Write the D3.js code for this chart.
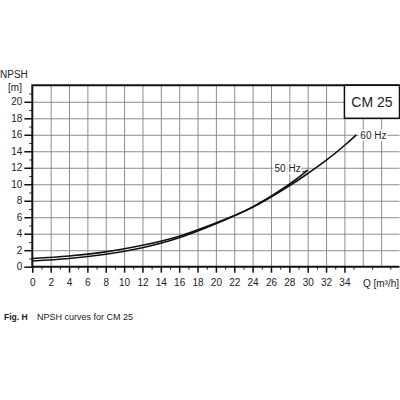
<!DOCTYPE html>
<html>
<head>
<meta charset="utf-8">
<script src="https://cdn.jsdelivr.net/npm/d3@7"></script>
<style>
  body { margin: 0; background: #fff; }
  text { font-family: "Liberation Sans", Arial, sans-serif; fill: #222; }
</style>
</head>
<body>
<div id="chart"></div>
<script>
// flow Q [m3/h] and NPSH [m]
var q60 = [0, 4, 8, 12, 16, 20, 24, 28, 30, 32, 34, 35.3];
var npsh60 = [1.0, 1.3, 1.8, 2.6, 3.7, 5.3, 7.2, 9.8, 11.3, 12.9, 14.7, 16.0];
var q50 = [0, 4, 8, 12, 16, 20, 24, 28, 30];
var npsh50 = [0.7, 1.0, 1.5, 2.3, 3.5, 5.2, 7.25, 10.0, 11.7];

var xTicks = d3.range(0, 35, 2);
var yTicks = d3.range(0, 21, 2);
var seriesNames = ["60 Hz", "50 Hz"];
var boxTitle = "CM 25";
var caption = ["Fig. H", "NPSH curves for CM 25"];

var W = 400, H = 400;
// plot edges (note: "top" is taken by window.top)
var pLeft = 32.3, pRight = 399.5, pTop = 85.3, pBottom = 266.7;

var svg = d3.select("#chart").append("svg")
    .attr("width", W).attr("height", H);

var x = d3.scaleLinear().domain([0, 40]).range([pLeft, pRight]);
var y = d3.scaleLinear().domain([0, 22]).range([pBottom, pTop]);

// grid lines
svg.append("g")
    .attr("transform", "translate(0," + pBottom + ")")
    .call(d3.axisBottom(x).tickValues(d3.range(2, 40, 2)).tickSize(-(pBottom - pTop)).tickFormat(""))
    .call(function(g) { g.select(".domain").remove(); })
    .selectAll("line").attr("stroke", "#808080").attr("stroke-width", 0.9);
svg.append("g")
    .attr("transform", "translate(" + pLeft + ",0)")
    .call(d3.axisLeft(y).tickValues(d3.range(2, 22, 2)).tickSize(-(pRight - pLeft)).tickFormat(""))
    .call(function(g) { g.select(".domain").remove(); })
    .selectAll("line").attr("stroke", "#808080").attr("stroke-width", 0.9);

// minor ticks
svg.append("g")
    .attr("transform", "translate(0," + pBottom + ")")
    .call(d3.axisBottom(x).tickValues(d3.range(1, 40, 2)).tickSize(3).tickFormat(""))
    .call(function(g) { g.select(".domain").remove(); })
    .selectAll("line").attr("stroke", "#222");
svg.append("g")
    .attr("transform", "translate(" + pLeft + ",0)")
    .call(d3.axisLeft(y).tickValues(d3.range(1, 22, 2)).tickSize(3).tickFormat(""))
    .call(function(g) { g.select(".domain").remove(); })
    .selectAll("line").attr("stroke", "#222");

// main axes
var xAxis = svg.append("g")
    .attr("transform", "translate(0," + pBottom + ")")
    .call(d3.axisBottom(x).tickValues(xTicks).tickSize(6).tickPadding(6));
var yAxis = svg.append("g")
    .attr("transform", "translate(" + pLeft + ",0)")
    .call(d3.axisLeft(y).tickValues(yTicks).tickSize(8).tickPadding(2));
[xAxis, yAxis].forEach(function(g) {
    g.select(".domain").remove();
    g.selectAll("line").attr("stroke", "#111").attr("stroke-width", 1.5);
    g.selectAll("text").attr("font-size", 10).style("font-family", "Liberation Sans, Arial, sans-serif").attr("fill", "#222");
});

// frame
svg.append("path")
    .attr("d", "M" + pRight + "," + pTop + "H" + pLeft + "V" + pBottom + "H" + pRight)
    .attr("fill", "none").attr("stroke", "#111").attr("stroke-width", 2);

// CM 25 box
svg.append("rect")
    .attr("x", x(34)).attr("y", y(22))
    .attr("width", pRight - x(34)).attr("height", y(18) - y(22))
    .attr("fill", "#fff").attr("stroke", "#111").attr("stroke-width", 1.5);
svg.append("text")
    .attr("x", (x(34) + pRight) / 2).attr("y", (y(22) + y(18)) / 2 + 5)
    .attr("text-anchor", "middle").attr("font-size", 14)
    .text(boxTitle);

// curves
var line = d3.line()
    .x(function(d) { return x(d[0]); })
    .y(function(d) { return y(d[1]); })
    .curve(d3.curveNatural);

var d60 = q60.map(function(v, i) { return [v, npsh60[i]]; });
var d50 = q50.map(function(v, i) { return [v, npsh50[i]]; });

[d60, d50].forEach(function(d) {
    svg.append("path").datum(d)
        .attr("d", line)
        .attr("fill", "none").attr("stroke", "#111").attr("stroke-width", 1.6);
});

// curve labels
var end60 = d60[d60.length - 1], end50 = d50[d50.length - 1];
svg.append("text")
    .attr("x", x(end60[0]) + 4).attr("y", y(end60[1]) + 4)
    .attr("font-size", 10)
    .attr("stroke", "#fff").attr("stroke-width", 3).attr("paint-order", "stroke")
    .text(seriesNames[0]);
svg.append("line")
    .attr("x1", x(end50[0]) - 6).attr("y1", y(end50[1]) + 2)
    .attr("x2", x(end50[0])).attr("y2", y(end50[1]))
    .attr("stroke", "#111").attr("stroke-width", 0.8);
svg.append("text")
    .attr("x", x(end50[0]) - 7).attr("y", y(end50[1]) + 2)
    .attr("text-anchor", "end").attr("font-size", 10)
    .attr("stroke", "#fff").attr("stroke-width", 3).attr("paint-order", "stroke")
    .text(seriesNames[1]);

// axis titles
svg.append("text").attr("x", 0).attr("y", 78).attr("font-size", 10).text("NPSH");
svg.append("text").attr("x", 15).attr("y", 91).attr("text-anchor", "middle").attr("font-size", 10).text("[m]");
var ql = svg.append("text").attr("x", 399).attr("y", 287).attr("text-anchor", "end").attr("font-size", 10);
ql.append("tspan").text("Q [m");
ql.append("tspan").text("\u00b3/h]");

// caption
svg.append("text").attr("x", 4).attr("y", 320).attr("font-size", 8.5).attr("font-weight", "bold").text(caption[0]);
svg.append("text").attr("x", 37).attr("y", 320).attr("font-size", 9).text(caption[1]);
</script>
</body>
</html>
